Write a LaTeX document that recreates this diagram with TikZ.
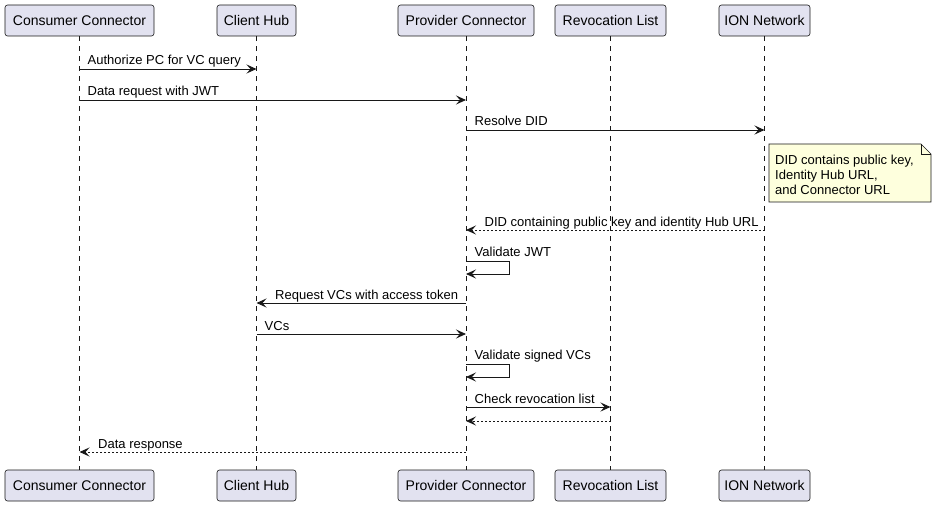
\documentclass[tikz,border=0pt]{standalone}
\usepackage{fontspec}
\setmainfont{Liberation Sans}
\usetikzlibrary{arrows.meta,calc}
\definecolor{partc}{HTML}{E2E2F0}
\definecolor{ln}{HTML}{181818}
\definecolor{notec}{HTML}{FEFFDD}
\begin{document}
\begin{tikzpicture}[x=1pt,y=-1pt,
  part/.style={draw=ln, fill=partc, rounded corners=2.5pt, line width=0.6pt,
    minimum height=31pt, inner sep=0pt, font=\fontsize{14}{16}\selectfont},
  life/.style={draw=ln, line width=0.5pt, dash pattern=on 5pt off 5pt},
  msg/.style={draw=ln, line width=0.9pt, -{Stealth[length=10pt,width=9pt,inset=4pt]}},
  ret/.style={msg, dash pattern=on 2pt off 2pt},
  lbl/.style={inner sep=0pt, font=\fontsize{13}{15}\selectfont, text=black},
  lblr/.style={lbl, anchor=base west},
]
\useasboundingbox (0,0) rectangle (937,505);
% participants top
\node[part, minimum width=149pt] (cc)  at (79.5,20.5) {Consumer Connector};
\node[part, minimum width=79pt]  (ch)  at (256.5,20.5) {Client Hub};
\node[part, minimum width=136pt] (pc)  at (466,20.5) {Provider Connector};
\node[part, minimum width=111pt] (rl)  at (610.5,20.5) {Revocation List};
\node[part, minimum width=91pt]  (ion) at (764.5,20.5) {ION Network};
% participants bottom
\node[part, minimum width=149pt] (ccb)  at (79.5,485.5) {Consumer Connector};
\node[part, minimum width=79pt]  (chb)  at (256.5,485.5) {Client Hub};
\node[part, minimum width=136pt] (pcb)  at (466,485.5) {Provider Connector};
\node[part, minimum width=111pt] (rlb)  at (610.5,485.5) {Revocation List};
\node[part, minimum width=91pt]  (ionb) at (764.5,485.5) {ION Network};
% lifelines
\foreach \a/\b in {cc/ccb,ch/chb,pc/pcb,rl/rlb,ion/ionb}
  \draw[life] (\a.south) -- (\b.north);
% messages
\draw[msg] (cc |- 0,69) -- (ch |- 0,69);
\node[lblr] (m1) at ($(cc |- 0,65)+(8,0)$) {Authorize PC for VC query};
\draw[msg] (cc |- 0,100) -- (pc |- 0,100);
\node[lblr] (m2) at ($(cc |- 0,96)+(8,0)$) {Data request with JWT};
\draw[msg] (pc |- 0,130) -- (ion |- 0,130);
\node[lblr] (m3) at ($(pc |- 0,126)+(8.5,0)$) {Resolve DID};
% note
\coordinate (n1) at (769,144);
\coordinate (n2) at (931,202);
\draw[draw=ln, fill=notec, line width=0.6pt] (n1) -- (921,144) -- (931,154) -- (n2) -- (769,202) -- cycle;
\draw[draw=ln, line width=0.6pt] (921,144) -- (921,154) -- (931,154);
\node[lbl, anchor=north west, align=left] (note) at (775,154.5) {DID contains public key,\\[0.3pt]Identity Hub URL,\\[0.3pt]and Connector URL};
\draw[ret] (ion |- 0,230) -- (pc |- 0,230);
\node[lblr] (m4) at ($(pc |- 0,226)+(18.5,0)$) {DID containing public key and identity Hub URL};
% self validate JWT
\coordinate (s1) at ($(pc |- 0,261)+(43,0)$);
\coordinate (s2) at ($(pc |- 0,274)+(43,0)$);
\draw[msg] (pc |- 0,261) -- (s1) -- (s2) -- (pc |- 0,274);
\node[lblr] (m5) at ($(pc |- 0,256)+(8.5,0)$) {Validate JWT};
\draw[msg] (pc |- 0,303) -- (ch |- 0,303);
\node[lblr] (m6) at ($(ch |- 0,299)+(18.5,0)$) {Request VCs with access token};
\draw[msg] (ch |- 0,334) -- (pc |- 0,334);
\node[lblr] (m7) at ($(ch |- 0,330)+(8,0)$) {VCs};
\coordinate (s3) at ($(pc |- 0,364)+(43,0)$);
\coordinate (s4) at ($(pc |- 0,377)+(43,0)$);
\draw[msg] (pc |- 0,364) -- (s3) -- (s4) -- (pc |- 0,377);
\node[lblr] (m8) at ($(pc |- 0,359)+(8.5,0)$) {Validate signed VCs};
\draw[msg] (pc |- 0,407) -- (rl |- 0,407);
\node[lblr] (m9) at ($(pc |- 0,403)+(8.5,0)$) {Check revocation list};
\draw[ret] (rl |- 0,421) -- (pc |- 0,421);
\draw[ret] (pc |- 0,452) -- (cc |- 0,452);
\node[lblr] (m10) at ($(cc |- 0,448)+(18.5,0)$) {Data response};
\end{tikzpicture}
\end{document}
